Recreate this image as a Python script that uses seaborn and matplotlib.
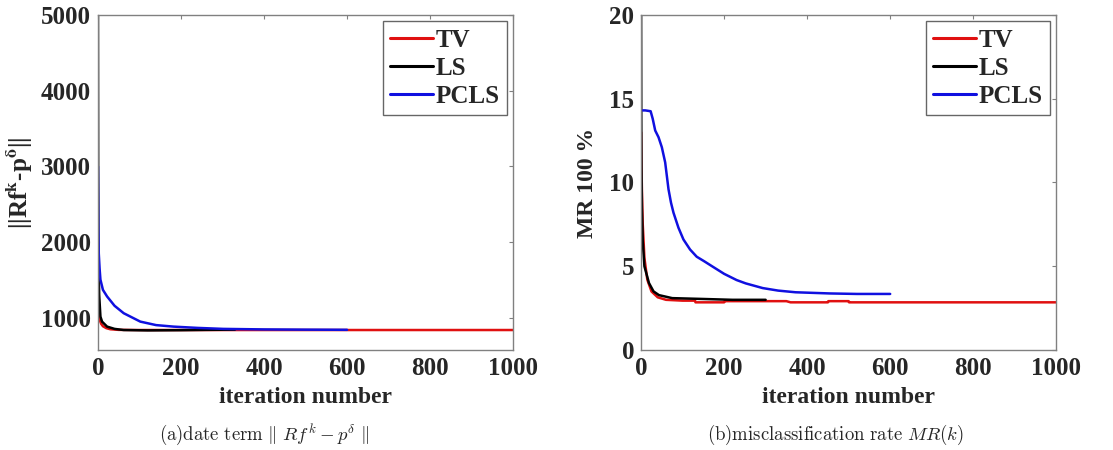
import numpy as np
import pandas as pd
import seaborn as sns
import matplotlib.pyplot as plt

sns.set_style("white")
plt.rcParams['font.family'] = ['Liberation Serif', 'DejaVu Serif']
plt.rcParams['font.weight'] = 'bold'
plt.rcParams['mathtext.fontset'] = 'stix'

methods = ["TV", "LS", "PCLS"]
colors = {"TV": "#e01010", "LS": "#000000", "PCLS": "#1010e0"}

# (a) data term ||Rf^k - p^delta||
tv_a_x = [0, 1, 2, 3, 5, 8, 12, 20, 30, 50, 100, 200, 300, 400, 500, 600, 700, 800, 900, 1000]
tv_a_y = [1300, 1150, 1050, 1000, 960, 920, 890, 865, 850, 842, 840, 840, 840, 840, 840, 840, 840, 840, 840, 840]
ls_a_x = [0, 0.5, 1, 2, 3, 6, 10, 22, 40, 62, 120, 200, 260, 330]
ls_a_y = [5000, 3000, 2000, 1550, 1300, 1017, 950, 885, 855, 840, 835, 838, 842, 845]
pcls_a_x = [0, 0.5, 1, 2, 4, 6, 12, 22, 40, 62, 102, 140, 182, 240, 302, 400, 500, 600]
pcls_a_y = [3000, 2600, 2200, 1850, 1650, 1505, 1370, 1283, 1160, 1062, 951, 905, 885, 868, 855, 848, 845, 843]

# (b) misclassification rate MR(k)
tv_b_x = [0, 1, 2, 4, 8, 15, 25, 40, 60, 100, 130, 131, 200, 201, 350, 360, 450, 451, 500, 501, 1000]
tv_b_y = [13, 11, 9.5, 7.5, 5.5, 4.2, 3.5, 3.15, 3.0, 2.95, 2.95, 2.85, 2.85, 2.92, 2.92, 2.85, 2.85, 2.92, 2.92, 2.85, 2.85]
ls_b_x = [0, 0.5, 1, 2, 4, 8, 19, 30, 43, 75, 150, 220, 300]
ls_b_y = [20, 14, 11, 8.5, 6.5, 5.0, 4.0, 3.5, 3.28, 3.1, 3.05, 3.0, 3.0]
pcls_b_x = [0, 10, 23, 28, 34, 42, 50, 58, 66, 72, 78, 90, 102, 118, 134, 152, 173, 200, 230, 252, 293, 330, 372, 454, 520, 600]
pcls_b_y = [14.3, 14.3, 14.25, 13.8, 13.1, 12.7, 12.1, 11.2, 9.6, 8.8, 8.2, 7.3, 6.6, 6.0, 5.57, 5.3, 4.97, 4.55, 4.18, 3.98, 3.7, 3.55, 3.45, 3.38, 3.35, 3.35]


def frame(xs, ys):
    parts = []
    for m, x, y in zip(methods, xs, ys):
        parts.append(pd.DataFrame({"iter": x, "val": y, "method": m}))
    return pd.concat(parts, ignore_index=True)


df_a = frame([tv_a_x, ls_a_x, pcls_a_x], [tv_a_y, ls_a_y, pcls_a_y])
df_b = frame([tv_b_x, ls_b_x, pcls_b_x], [tv_b_y, ls_b_y, pcls_b_y])

fig = plt.figure(figsize=(11.13, 4.5), dpi=100)
ax1 = fig.add_axes([0.088, 0.222, 0.373, 0.745])
ax2 = fig.add_axes([0.576, 0.222, 0.373, 0.745])

for ax, df in [(ax1, df_a), (ax2, df_b)]:
    sns.lineplot(data=df, x="iter", y="val", hue="method", hue_order=methods,
                 palette=colors, sort=False, estimator=None, linewidth=1.8, ax=ax)
    ax.set_xlim(0, 1000)
    ax.set_xticks(range(0, 1001, 200))
    for s in ax.spines.values():
        s.set_color("#808080")
        s.set_linewidth(1.0)
    ax.tick_params(direction="in", length=3, width=0.8, color="#808080",
                   top=True, right=True, labelsize=18, pad=5)
    ax.set_xlabel("iteration number", fontsize=17, fontweight="bold", labelpad=5)
    leg = ax.legend(loc="upper right", fontsize=18, frameon=True, fancybox=False,
                    handlelength=1.7, handletextpad=0.1, borderpad=0.3,
                    labelspacing=0.2, borderaxespad=0.25)
    leg.get_frame().set_edgecolor("#404040")
    leg.get_frame().set_linewidth(1.0)
    for t in leg.get_texts():
        t.set_fontweight("bold")
    for h in leg.get_lines():
        h.set_linewidth(2.2)

ax1.set_ylim(575, 5000)
ax1.set_yticks([1000, 2000, 3000, 4000, 5000])
ax1.set_ylabel(r"||Rf$^{\mathbf{k}}$-p$^{\mathbf{\delta}}$||", fontsize=18,
               fontweight="bold", labelpad=4)

ax2.set_ylim(0, 20)
ax2.set_yticks([0, 5, 10, 15, 20])
ax2.set_ylabel("MR 100 %", fontsize=17, fontweight="bold", labelpad=8)

for ax in (ax1, ax2):
    for lab in ax.get_xticklabels() + ax.get_yticklabels():
        lab.set_fontweight("bold")

fig.text(0.237, 0.033, r"$\mathrm{(a)date\ term}\ \|\ Rf^k - p^\delta\ \|$",
         ha="center", va="center", fontsize=13.5, math_fontfamily="cm")
fig.text(0.751, 0.033, r"$\mathrm{(b)misclassification\ rate}\ MR(k)$",
         ha="center", va="center", fontsize=13.5, math_fontfamily="cm")

fig.savefig("out.png", dpi=100)
